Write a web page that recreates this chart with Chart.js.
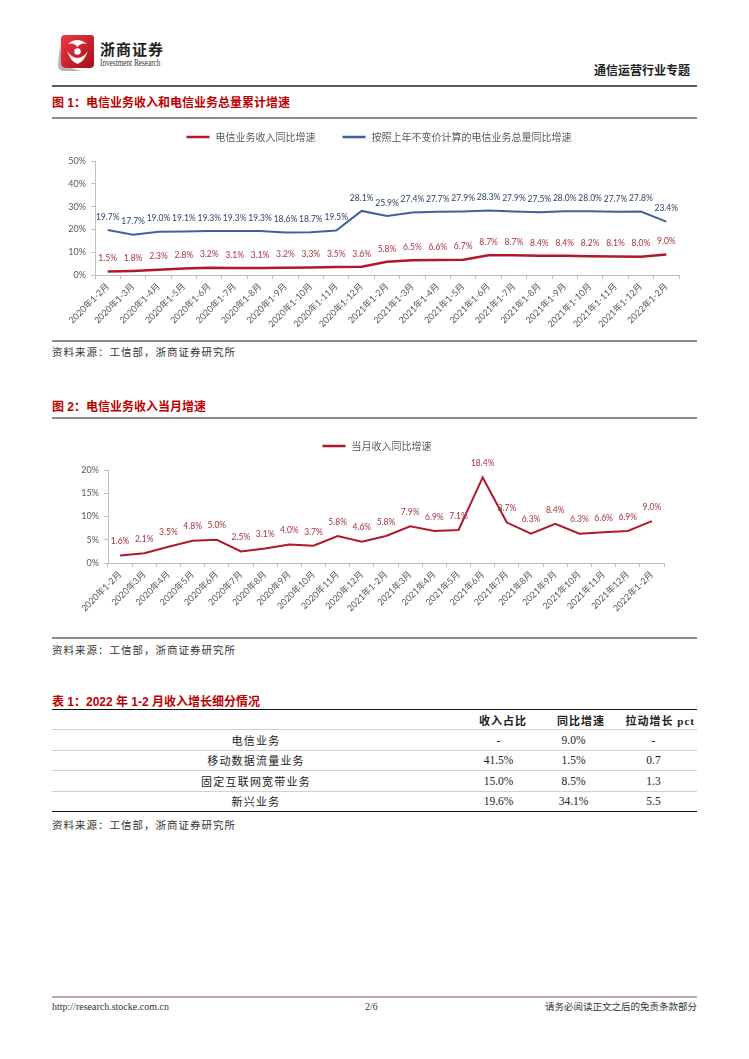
<!DOCTYPE html>
<html lang="zh-CN">
<head>
<meta charset="utf-8">
<title>通信运营行业专题</title>
<script src="https://cdn.jsdelivr.net/npm/chart.js@4.4.1/dist/chart.umd.min.js"></script>
<style>
  html, body { margin: 0; padding: 0; background: #fff; }
  body { width: 749px; height: 1059px; position: relative; overflow: hidden; color: #222;
         font-family: 'Liberation Serif', 'Noto Sans CJK SC', serif; }
  .abs { position: absolute; white-space: nowrap; }
  .rule { position: absolute; left: 52px; width: 645px; }
  .title { position: absolute; left: 52px; line-height: 16px; white-space: nowrap; color: #C00000;
           font: bold 12px 'Liberation Sans', 'Noto Sans CJK SC', sans-serif; }
  .source { position: absolute; left: 52px; line-height: 14px; color: #333; white-space: nowrap;
            font-family: 'Noto Sans CJK SC', sans-serif; font-size: 10.5px; letter-spacing: 1px; }
  .chart-box { position: absolute; left: 52px; width: 645px; }
  #breakdown { position: absolute; left: 52px; top: 709px; width: 645px; border-collapse: collapse;
               border-top: 1.5px solid #111; border-bottom: 1.5px solid #111; table-layout: fixed; }
  #breakdown th, #breakdown td { height: 19.4px; padding: 0; line-height: 14px; }
  #breakdown tr { border-bottom: 1px solid #d0d0d0; }
  #breakdown tbody tr:last-child { border-bottom: none; }
  #breakdown th { font: bold 11px 'Liberation Serif', 'Noto Sans CJK SC', serif; letter-spacing: 1px; text-align: right; }
  #breakdown td { font-size: 11.5px; text-align: center; color: #222; }
  #breakdown td.name { font-family: 'Noto Sans CJK SC', sans-serif; font-size: 11px; letter-spacing: 1.2px; }
  .footer { position: absolute; top: 1000px; font-size: 10px; line-height: 13px; color: #333; white-space: nowrap; }
</style>
</head>
<body>

<!-- header -->
<svg class="abs" style="left:56px; top:33px" width="40" height="40" viewBox="0 0 40 40">
  <defs>
    <linearGradient id="lg" x1="0" y1="0" x2="1" y2="1">
      <stop offset="0" stop-color="#ED3A42"/>
      <stop offset="1" stop-color="#A50F19"/>
    </linearGradient>
  </defs>
  <path d="M4 10 Q4 38 30 38 L8 38 Q2 38 2 32 Z" fill="#b5b5b5"/>
  <path d="M9 2 H35 Q38 2 38 5 V31 Q38 35 34 35 H11 Q5 35 5 29 V6 Q5 2 9 2 Z" fill="url(#lg)"/>
  <path d="M12 11 Q21 3 31 11 Q25 9 21.5 14 Q18 9 12 11 Z" fill="#fff"/>
  <path d="M11 18 Q15 29 21.5 31 Q28 29 32 18 Q27 25 21.5 25 Q16 25 11 18 Z" fill="#fff"/>
  <circle cx="21.5" cy="18.5" r="3.2" fill="#fff"/>
</svg>
<div class="abs" style="left:100px; top:40px; font: bold 15px 'Noto Sans CJK SC', serif; letter-spacing: 1px; line-height: 18px; color:#222">浙商证券</div>
<div class="abs" style="left:100px; top:58px; font: 9.5px 'Liberation Serif', serif; line-height: 11px; color:#333; transform: scaleX(0.76); transform-origin: left top">Investment Research</div>
<div class="abs" style="right:59px; top:62px; font: bold 12px 'Noto Sans CJK SC', sans-serif; line-height: 16px; color:#222">通信运营行业专题</div>
<div class="rule" style="top:85px; height:1.5px; background:#595959"></div>

<!-- figure 1 -->
<div class="title" style="top:93px">图 1：电信业务收入和电信业务总量累计增速</div>
<div class="rule" style="top:117px; height:1.5px; background:#8c8c8c"></div>
<div class="chart-box" style="top:125px; height:210px"><canvas id="cumChart"></canvas></div>
<div class="rule" style="top:340px; height:1.5px; background:#8c8c8c"></div>
<div class="source" style="top:345px">资料来源：工信部，浙商证券研究所</div>

<!-- figure 2 -->
<div class="title" style="top:397px">图 2：电信业务收入当月增速</div>
<div class="rule" style="top:417px; height:1.5px; background:#8c8c8c"></div>
<div class="chart-box" style="top:425px; height:207px"><canvas id="monthChart"></canvas></div>
<div class="rule" style="top:637px; height:1.5px; background:#8c8c8c"></div>
<div class="source" style="top:643px">资料来源：工信部，浙商证券研究所</div>

<!-- table 1 -->
<div class="title" style="top:692px">表 1：2022 年 1-2 月收入增长细分情况</div>
<table id="breakdown">
  <colgroup><col style="width:408px"><col style="width:77px"><col style="width:73px"><col style="width:87px"></colgroup>
  <thead>
    <tr><th></th><th style="padding-right:10px">收入占比</th><th style="padding-right:5px">同比增速</th><th style="padding-right:2px">拉动增长 pct</th></tr>
  </thead>
  <tbody></tbody>
</table>
<div class="source" style="top:818px">资料来源：工信部，浙商证券研究所</div>

<!-- footer -->
<div class="rule" style="top:996px; height:1.5px; background:#c4a6b2"></div>
<div class="footer" style="left:52px">http://research.stocke.com.cn</div>
<div class="footer" style="left:365px">2/6</div>
<div class="footer" style="right:52px; font-family:'Noto Sans CJK SC', sans-serif; font-size:9.5px">请务必阅读正文之后的免责条款部分</div>

<script>
// 图1：累计增速
const cumLabels = [
    '2020年1-2月', '2020年1-3月', '2020年1-4月', '2020年1-5月', '2020年1-6月', '2020年1-7月',
    '2020年1-8月', '2020年1-9月', '2020年1-10月', '2020年1-11月', '2020年1-12月',
    '2021年1-2月', '2021年1-3月', '2021年1-4月', '2021年1-5月', '2021年1-6月', '2021年1-7月',
    '2021年1-8月', '2021年1-9月', '2021年1-10月', '2021年1-11月', '2021年1-12月', '2022年1-2月'
];
const revenueCum = [1.5, 1.8, 2.3, 2.8, 3.2, 3.1, 3.1, 3.2, 3.3, 3.5, 3.6, 5.8, 6.5, 6.6, 6.7, 8.7, 8.7, 8.4, 8.4, 8.2, 8.1, 8.0, 9.0];
const volumeCum = [19.7, 17.7, 19.0, 19.1, 19.3, 19.3, 19.3, 18.6, 18.7, 19.5, 28.1, 25.9, 27.4, 27.7, 27.9, 28.3, 27.9, 27.5, 28.0, 28.0, 27.7, 27.8, 23.4];
const cumTicks = [0, 10, 20, 30, 40, 50];

// 图2：当月增速
const monthLabels = [
    '2020年1-2月', '2020年3月', '2020年4月', '2020年5月', '2020年6月', '2020年7月',
    '2020年8月', '2020年9月', '2020年10月', '2020年11月', '2020年12月',
    '2021年1-2月', '2021年3月', '2021年4月', '2021年5月', '2021年6月', '2021年7月',
    '2021年8月', '2021年9月', '2021年10月', '2021年11月', '2021年12月', '2022年1-2月'
];
const revenueMonth = [1.6, 2.1, 3.5, 4.8, 5.0, 2.5, 3.1, 4.0, 3.7, 5.8, 4.6, 5.8, 7.9, 6.9, 7.1, 18.4, 8.7, 6.3, 8.4, 6.3, 6.6, 6.9, 9.0];
const monthTicks = [0, 5, 10, 15, 20];

// 表1
const segNames = ['电信业务', '移动数据流量业务', '固定互联网宽带业务', '新兴业务'];
const segShare = ['-', '41.5%', '15.0%', '19.6%'];
const segGrowth = ['9.0%', '1.5%', '8.5%', '34.1%'];
const segPull = ['-', '0.7', '1.3', '5.5'];

const RED = '#B2182B';
const RED_TEXT = '#A8323F';
const BLUE = '#3E61A3';
const BLUE_TEXT = '#2B3F66';
const GRAY = '#595959';
const AXIS = '#bfbfbf';
const FONT = "Lato, 'Noto Sans CJK SC', sans-serif";
const CJK = "'Noto Sans CJK SC', sans-serif";

// 数据标签
const pointLabels = {
    id: 'pointLabels',
    afterDatasetsDraw(chart, args, opts) {
        const { ctx } = chart;
        ctx.save();
        ctx.font = `8.5px ${FONT}`;
        ctx.textAlign = 'center';
        ctx.textBaseline = 'middle';
        chart.data.datasets.forEach((ds, i) => {
            ctx.fillStyle = ds.labelColor;
            chart.getDatasetMeta(i).data.forEach((pt, j) => {
                ctx.fillText(ds.data[j].toFixed(1) + '%', pt.x, pt.y - opts.offset);
            });
        });
        ctx.restore();
    }
};

// 图例（线段 + 文字）
const lineLegend = {
    id: 'lineLegend',
    afterDraw(chart, args, opts) {
        const { ctx } = chart;
        ctx.save();
        ctx.font = `10px ${CJK}`;
        ctx.textBaseline = 'middle';
        const items = chart.data.datasets.map(ds => ({ ds, w: 23 + 6 + ctx.measureText(ds.label).width }));
        const total = items.reduce((s, it) => s + it.w, 0) + opts.gap * (items.length - 1);
        let x = opts.centerX - total / 2;
        items.forEach(({ ds, w }) => {
            ctx.fillStyle = ds.borderColor;
            ctx.fillRect(x, opts.y - 1.25, 23, 2.5);
            ctx.fillStyle = GRAY;
            ctx.fillText(ds.label, x + 29, opts.y);
            x += w + opts.gap;
        });
        ctx.restore();
    }
};

function xScale(height) {
    return {
        offset: true,
        grid: { display: true, drawOnChartArea: false, drawTicks: true, tickLength: 4, color: AXIS, offset: true },
        border: { display: true, color: AXIS, width: 1 },
        ticks: { autoSkip: false, maxRotation: 45, minRotation: 45, padding: 2, color: GRAY, font: { size: 9, family: FONT } },
        afterFit: s => { s.height = height; }
    };
}

function yScale(width, ticks) {
    return {
        min: ticks[0],
        max: ticks[ticks.length - 1],
        ticks: { stepSize: ticks[1] - ticks[0], callback: v => v + '%', padding: 5, color: GRAY, font: { size: 9, family: FONT } },
        grid: { display: true, drawOnChartArea: false, tickLength: 4, color: AXIS },
        border: { display: true, color: AXIS, width: 1 },
        afterFit: s => { s.width = width; }
    };
}

const baseOptions = {
    responsive: true,
    maintainAspectRatio: false,
    animation: false,
    elements: { point: { radius: 0, hoverRadius: 0 }, line: { tension: 0 } }
};

new Chart(document.getElementById('cumChart'), {
    type: 'line',
    data: {
        labels: cumLabels,
        datasets: [
            { label: '电信业务收入同比增速', data: revenueCum, borderColor: RED, backgroundColor: RED, borderWidth: 2.5, labelColor: RED_TEXT },
            { label: '按照上年不变价计算的电信业务总量同比增速', data: volumeCum, borderColor: BLUE, backgroundColor: BLUE, borderWidth: 2, labelColor: BLUE_TEXT }
        ]
    },
    options: {
        ...baseOptions,
        layout: { padding: { top: 36, right: 18, left: 0, bottom: 0 } },
        plugins: {
            legend: { display: false },
            tooltip: { enabled: false },
            lineLegend: { y: 12, centerX: 327, gap: 27 },
            pointLabels: { offset: 13 }
        },
        scales: { x: xScale(60), y: yScale(43, cumTicks) }
    },
    plugins: [lineLegend, pointLabels]
});

new Chart(document.getElementById('monthChart'), {
    type: 'line',
    data: {
        labels: monthLabels,
        datasets: [
            { label: '当月收入同比增速', data: revenueMonth, borderColor: RED, backgroundColor: RED, borderWidth: 2, labelColor: RED_TEXT }
        ]
    },
    options: {
        ...baseOptions,
        layout: { padding: { top: 45, right: 33, left: 0, bottom: 0 } },
        plugins: {
            legend: { display: false },
            tooltip: { enabled: false },
            lineLegend: { y: 21, centerX: 325, gap: 27 },
            pointLabels: { offset: 14 }
        },
        scales: { x: xScale(69), y: yScale(56, monthTicks) }
    },
    plugins: [lineLegend, pointLabels]
});

// 表格
const tbody = document.querySelector('#breakdown tbody');
tbody.innerHTML = segNames.map((name, i) => `
    <tr>
        <td class="name">${name}</td>
        <td>${segShare[i]}</td>
        <td>${segGrowth[i]}</td>
        <td>${segPull[i]}</td>
    </tr>`).join('');
</script>
</body>
</html>
